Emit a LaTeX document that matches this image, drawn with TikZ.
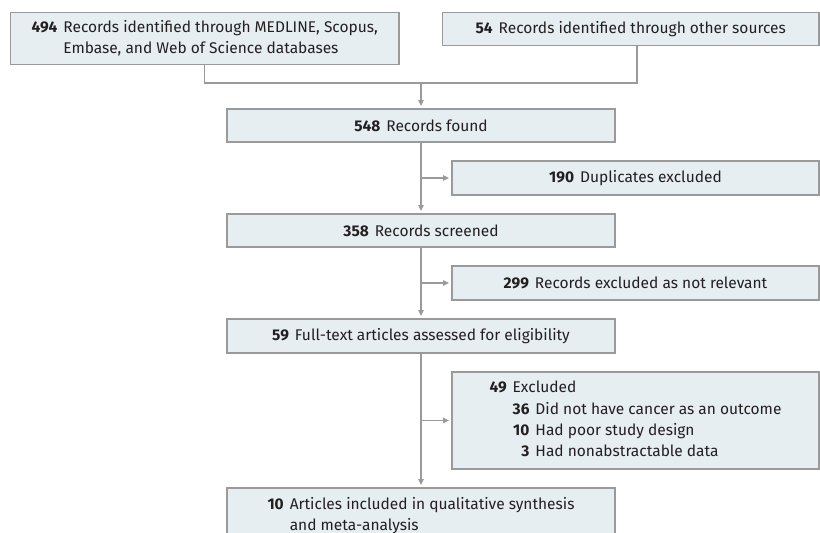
\documentclass[tikz,border=0pt]{standalone}
\usepackage{fontspec}
\setmainfont{Fira Sans}
\usetikzlibrary{arrows.meta}
\definecolor{boxfill}{HTML}{E6EEF2}
\definecolor{boxline}{HTML}{9A9A9A}
\definecolor{txt}{HTML}{231F20}
\begin{document}
\begin{tikzpicture}[x=1pt,y=-1pt,
  box/.style={draw=boxline, line width=1.2pt, fill=boxfill, inner sep=0pt, outer sep=0pt,
    text=txt, font=\fontsize{15.5}{20.8}\selectfont, anchor=north west},
  conn/.style={draw=boxline, line width=1.2pt},
  arr/.style={conn, -{Triangle[length=6pt,width=5.5pt]}, shorten >=3pt}]
\useasboundingbox (0,0) rectangle (820,533);
\clip (0,0) rectangle (820,533);
\node[box, minimum width=388.5pt, minimum height=52pt] (b1) at (10.5,12.5)
  {\begin{tabular}{@{}l@{\hspace{6pt}}l@{}}\textbf{494} & Records identified through MEDLINE, Scopus,\\ & Embase, and Web of Science databases\end{tabular}};
\node[box, minimum width=376.5pt, minimum height=33pt] (b2) at (442.5,12.5)
  {\textbf{54}\hspace{6pt}Records identified through other sources};
\node[box, minimum width=388pt, minimum height=33pt] (b3) at (227,109)
  {\textbf{548}\hspace{6pt}Records found};
\node[box, minimum width=367pt, minimum height=34pt] (b4) at (452,161)
  {\textbf{190}\hspace{6pt}Duplicates excluded};
\node[box, minimum width=388pt, minimum height=33pt] (b5) at (227,214)
  {\textbf{358}\hspace{6pt}Records screened};
\node[box, minimum width=367pt, minimum height=34pt] (b6) at (452,266)
  {\textbf{299}\hspace{6pt}Records excluded as not relevant};
\node[box, minimum width=388pt, minimum height=34pt] (b7) at (227,319)
  {\textbf{59}\hspace{6pt}Full-text articles assessed for eligibility};
\node[box, minimum width=367pt, minimum height=97pt, font=\fontsize{15.5}{21.3}\selectfont] (b8) at (452,372)
  {\begin{tabular}{@{}r@{\hspace{6pt}}r@{\hspace{6pt}}l@{}}
   \textbf{49} & \multicolumn{2}{@{}l@{}}{Excluded}\\
   & \textbf{36} & Did not have cancer as an outcome\\
   & \textbf{10} & Had poor study design\\
   & \textbf{3} & Had nonabstractable data
   \end{tabular}};
\node[box, minimum width=388pt, minimum height=56pt] (b9) at (227,488)
  {\begin{tabular}{@{}l@{\hspace{6pt}}l@{}}\textbf{10} & Articles included in qualitative synthesis\\ & and meta-analysis\end{tabular}};
\coordinate (j2) at (637,83);
\coordinate (jm) at (421,83);
\draw[conn] (b1.south) |- (j2) -- (j2 |- b2.south);
\draw[arr] (jm) -- (b3.north);
\draw[arr] (b3.south) -- (b5.north);
\draw[arr] (b3.south |- b4.west) -- (b4.west);
\draw[arr] (b5.south) -- (b7.north);
\draw[arr] (b5.south |- b6.west) -- (b6.west);
\draw[arr] (b7.south) -- (b9.north);
\draw[arr] (b7.south |- b8.west) -- (b8.west);
\end{tikzpicture}
\end{document}
